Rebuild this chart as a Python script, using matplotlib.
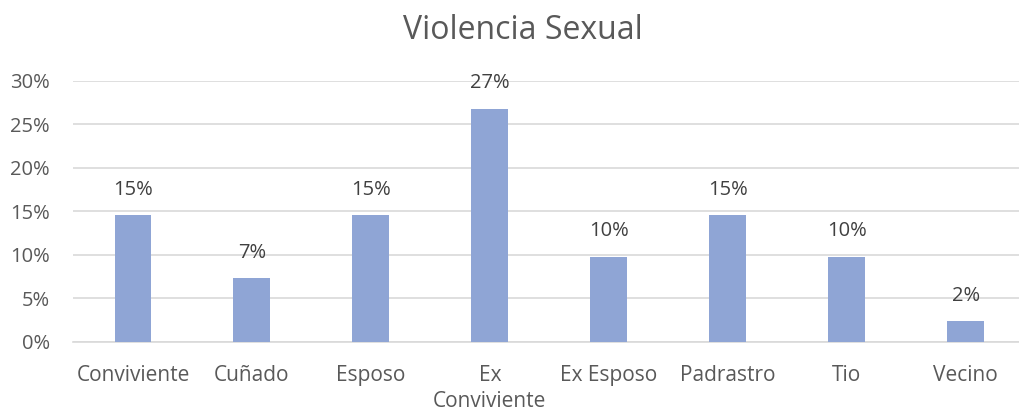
import matplotlib.pyplot as plt
from matplotlib.ticker import PercentFormatter

categorias = ["Conviviente", "Cuñado", "Esposo", "Ex\nConviviente", "Ex Esposo",
              "Padrastro", "Tio", "Vecino"]
valores = [0.146, 0.073, 0.146, 0.268, 0.098, 0.146, 0.098, 0.024]
etiquetas = ["15%", "7%", "15%", "27%", "10%", "15%", "10%", "2%"]

gris = "#595959"
plt.rcParams['font.family'] = ['Open Sans', 'DejaVu Sans']

fig = plt.figure(figsize=(10.19, 4.12), dpi=100)
ax = fig.add_axes([0.0721, 0.1706, 0.934, 0.633])

x = range(len(categorias))
barras = ax.bar(x, valores, width=0.31, color="#8FA5D5", zorder=3)
for b, t in zip(barras, etiquetas):
    ax.annotate(t, (b.get_x() + b.get_width() / 2, b.get_height()),
                xytext=(0, 11), textcoords="offset points",
                ha="center", va="bottom", fontsize=14.5, color="#404040")

ax.set_xlim(-0.5, len(categorias) - 0.5)
ax.set_ylim(0, 0.30)
ax.set_yticks([0, 0.05, 0.10, 0.15, 0.20, 0.25, 0.30])
ax.yaxis.set_major_formatter(PercentFormatter(1.0, decimals=0))
ax.grid(axis="y", color="#d9d9d9", linewidth=1.2, zorder=0)

ax.set_xticks(list(x))
ax.set_xticklabels(categorias, fontsize=15, color=gris, linespacing=1.3)
ax.tick_params(axis="y", labelsize=14.5, labelcolor=gris, length=0, pad=17)
ax.tick_params(axis="x", length=0, pad=17)

for s in ["top", "right", "left"]:
    ax.spines[s].set_visible(False)
ax.spines["bottom"].set_color("#d9d9d9")
ax.spines["bottom"].set_linewidth(1.2)

fig.text(0.513, 0.925, "Violencia Sexual", ha="center", va="center",
         fontsize=23, color=gris)

fig.savefig("out.png", dpi=100)
